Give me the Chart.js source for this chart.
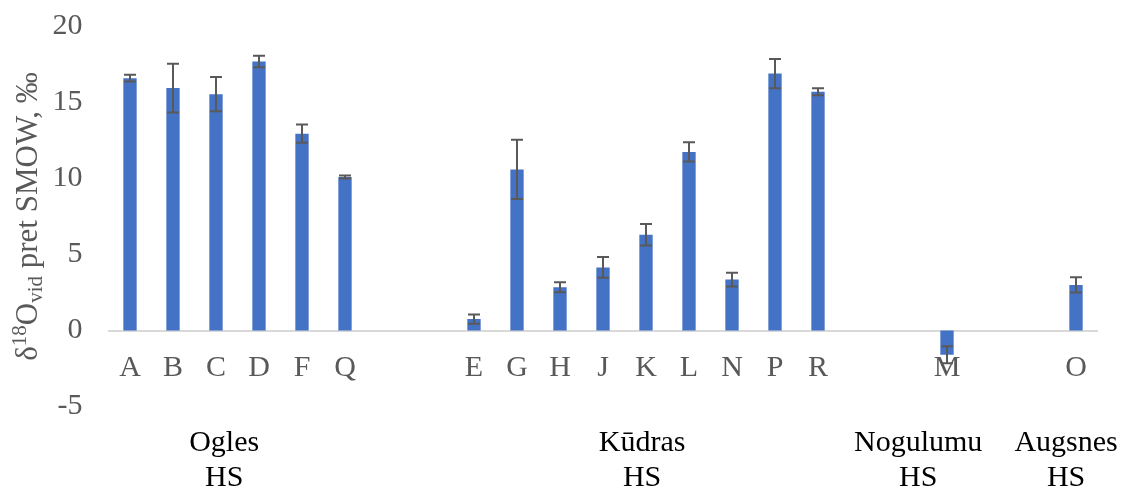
<!DOCTYPE html>
<html>
<head>
<meta charset="utf-8">
<script src="https://cdn.jsdelivr.net/npm/chart.js@4"></script>
<style>
  html, body { margin: 0; padding: 0; background: #fff; }
  #wrap { width: 1123px; height: 488px; }
</style>
</head>
<body>
<div id="wrap"><canvas id="c" width="1123" height="488"></canvas></div>
<script>
// ---- data ----
const categories = ['A','B','C','D','F','Q','','','E','G','H','J','K','L','N','P','R','','','M','','','O'];
const values     = [16.6,15.95,15.55,17.7,12.95,10.1,null,null,0.75,10.6,2.85,4.15,6.3,11.75,3.35,16.9,15.7,null,null,-1.6,null,null,3.0];
const errors     = [0.22,1.6,1.12,0.38,0.6,0.1,null,null,0.3,1.95,0.33,0.68,0.7,0.63,0.45,0.97,0.23,null,null,0.56,null,null,0.5];
const yTicks     = [-5,0,5,10,15,20];
const groupNames = ['Ogles','Kūdras','Nogulumu','Augsnes'];
const groupSub   = ['HS','HS','HS','HS'];

// ---- layout (category-index centres of group labels) ----
const groupCentres = [2.19, 11.91, 18.33, 21.77];

const FONT = '"Liberation Serif", "DejaVu Serif", serif';
const GREY = '#595959';

const errorBars = {
  id: 'errorBars',
  afterDatasetsDraw(chart) {
    const ctx = chart.ctx;
    const meta = chart.getDatasetMeta(0);
    const y = chart.scales.y;
    ctx.save();
    ctx.strokeStyle = GREY;
    ctx.lineWidth = 2;
    meta.data.forEach((bar, i) => {
      const v = values[i], e = errors[i];
      if (v == null || e == null) return;
      const x = bar.x;
      const yt = y.getPixelForValue(v + e);
      const yb = y.getPixelForValue(v - e);
      ctx.beginPath();
      ctx.moveTo(x, yt); ctx.lineTo(x, yb);
      ctx.moveTo(x - 6, yt); ctx.lineTo(x + 6, yt);
      ctx.moveTo(x - 6, yb); ctx.lineTo(x + 6, yb);
      ctx.stroke();
    });
    ctx.restore();
  }
};

const extraText = {
  id: 'extraText',
  afterDraw(chart) {
    const ctx = chart.ctx;
    const xs = chart.scales.x;
    const area = chart.chartArea;
    ctx.save();
    // group labels
    ctx.fillStyle = '#000';
    ctx.font = '30px ' + FONT;
    ctx.textAlign = 'center';
    ctx.textBaseline = 'alphabetic';
    groupNames.forEach((g, i) => {
      const px = xs.getPixelForValue(groupCentres[i]);
      ctx.fillText(g, px, 451);
      ctx.fillText(groupSub[i], px, 486);
    });
    // y-axis title with super/subscripts
    const segs = [
      {t: 'δ', size: 31, dy: 0},
      {t: '18', size: 21, dy: -11},
      {t: 'O', size: 31, dy: 0},
      {t: 'vid', size: 21, dy: 5},
      {t: ' pret SMOW, ‰', size: 31, dy: 0}
    ];
    let total = 0;
    segs.forEach(s => { ctx.font = s.size + 'px ' + FONT; s.w = ctx.measureText(s.t).width; total += s.w; });
    const cy = (area.top + area.bottom) / 2;
    ctx.translate(37, cy);
    ctx.rotate(-Math.PI / 2);
    ctx.fillStyle = GREY;
    ctx.textAlign = 'left';
    let cx = -total / 2;
    segs.forEach(s => {
      ctx.font = s.size + 'px ' + FONT;
      ctx.fillText(s.t, cx, s.dy);
      cx += s.w;
    });
    ctx.restore();
  }
};

new Chart(document.getElementById('c'), {
  type: 'bar',
  data: {
    labels: categories,
    datasets: [{
      data: values,
      backgroundColor: '#4472C4',
      borderWidth: 0,
      barPercentage: 0.31,
      categoryPercentage: 1.0
    }]
  },
  options: {
    responsive: false,
    animation: false,
    events: [],
    layout: { padding: { left: 0, right: 25.5, top: 26.5, bottom: 81.5 } },
    plugins: { legend: { display: false }, tooltip: { enabled: false } },
    scales: {
      x: {
        position: { y: 0 },
        grid: { display: false, drawTicks: false },
        border: { display: true, color: '#d9d9d9', width: 2 },
        ticks: { color: GREY, font: { family: FONT, size: 30 }, padding: 20, maxRotation: 0, autoSkip: false }
      },
      y: {
        min: -5, max: 20,
        afterFit(s) { s.width = 108.5; s.paddingTop = 0; s.paddingBottom = 0; },
        afterBuildTicks(s) { s.ticks = yTicks.map(v => ({ value: v })); },
        grid: { display: false, drawTicks: false },
        border: { display: false },
        ticks: { color: GREY, font: { family: FONT, size: 30 }, padding: 26 }
      }
    }
  },
  plugins: [errorBars, extraText]
});
</script>
</body>
</html>
